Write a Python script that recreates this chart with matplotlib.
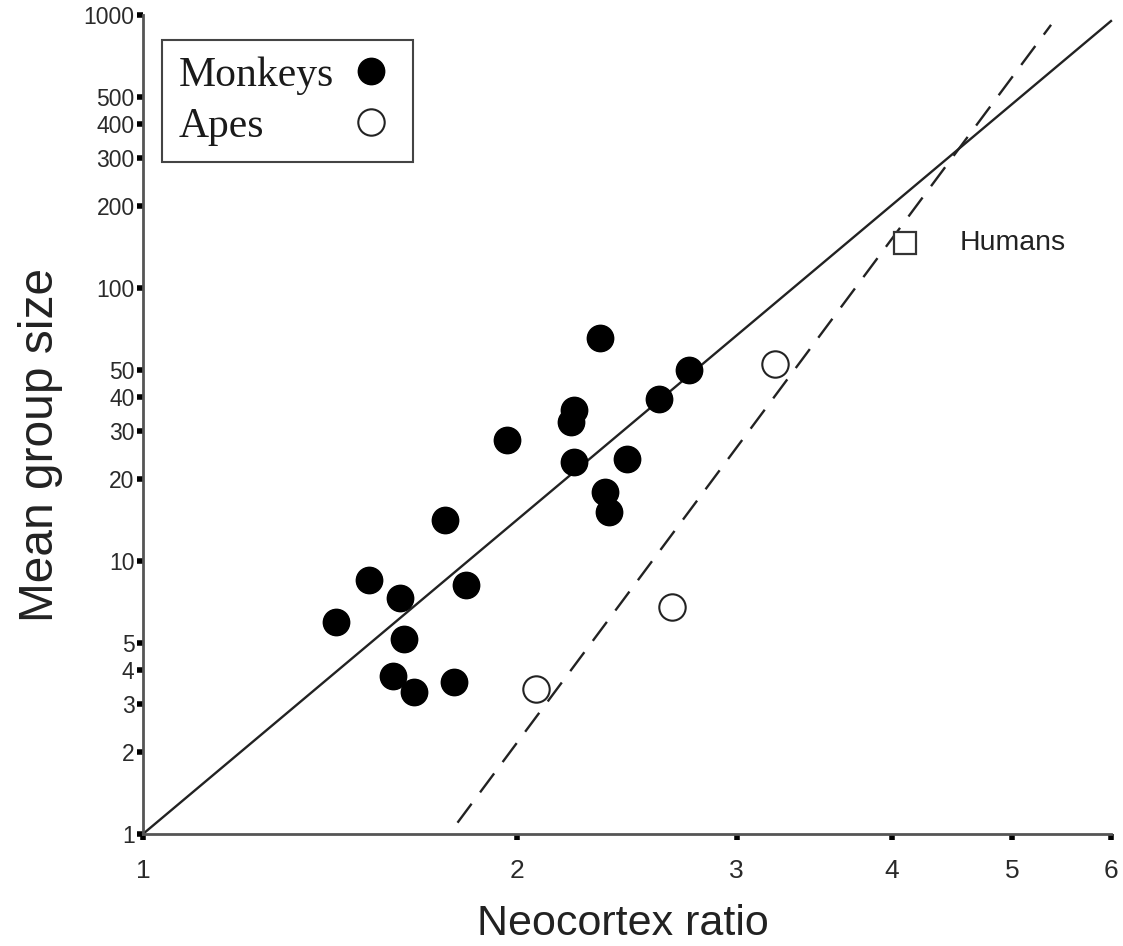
"""
neocortex ratio vs mean group size (log-log), monkeys / apes / humans
"""
import numpy as np
import matplotlib
matplotlib.use('Agg')
import matplotlib.pyplot as plt
from matplotlib.ticker import FixedLocator, FixedFormatter, NullLocator

# ------------------------------------------------------------------ data:
monkey_ratio = [1.43, 1.52, 1.61, 1.62, 1.59, 1.65, 1.78, 1.75, 1.82, 1.96,
                2.22, 2.21, 2.22, 2.33, 2.35, 2.37, 2.45, 2.60, 2.75]
monkey_group = [6.0, 8.5, 7.3, 5.2, 3.8, 3.3, 3.6, 14.1, 8.2, 27.7,
                35.7, 32.3, 23.0, 65.6, 17.9, 15.1, 23.6, 39.2, 50.1]

ape_ratio = [2.07, 2.66, 3.22]
ape_group = [3.4, 6.8, 52.7]

human_ratio = [4.10]
human_group = [146]

# regression lines (end points)
fit_all_x = [1.0, 6.0]
fit_all_y = [1.0, 950]
fit_ape_x = [1.79, 5.37]
fit_ape_y = [1.1, 920]

x_ticks = [1, 2, 3, 4, 5, 6]
y_ticks = [1, 2, 3, 4, 5, 10, 20, 30, 40, 50, 100, 200, 300, 400, 500, 1000]

# ------------------------------------------------------------------ plot:
fig = plt.figure(figsize=(11.23, 9.46), dpi=100)
ax = fig.add_axes([0.1273, 0.1184, 0.862, 0.8658])

sans = ['Liberation Sans', 'DejaVu Sans']
serif = ['Liberation Serif', 'DejaVu Serif']

ax.plot(fit_all_x, fit_all_y, color='#222222', lw=1.7, clip_on=False, zorder=2)
ax.plot(fit_ape_x, fit_ape_y, color='#222222', lw=1.7, ls=(0, (10, 6)),
        clip_on=False, zorder=2)

ax.plot(monkey_ratio, monkey_group, 'o', ms=19, color='black', mec='black',
        label='Monkeys', zorder=3, clip_on=False)
ax.plot(ape_ratio, ape_group, 'o', ms=19, mfc='white', mec='#222222', mew=1.5,
        label='Apes', zorder=3, clip_on=False)
ax.plot(human_ratio, human_group, 's', ms=15.5, mfc='white', mec='#333333',
        mew=1.6, zorder=3, clip_on=False)
ax.text(human_ratio[0] * 1.105, human_group[0], 'Humans', family=sans,
        fontsize=20.5, va='center', ha='left', color='#222222')

ax.set_xscale('log')
ax.set_yscale('log')
ax.set_xlim(1, 6)
ax.set_ylim(1, 1000)

ax.xaxis.set_major_locator(FixedLocator(x_ticks))
ax.xaxis.set_major_formatter(FixedFormatter([str(v) for v in x_ticks]))
ax.yaxis.set_major_locator(FixedLocator(y_ticks))
ax.yaxis.set_major_formatter(FixedFormatter([str(v) for v in y_ticks]))
ax.xaxis.set_minor_locator(NullLocator())
ax.yaxis.set_minor_locator(NullLocator())

for side in ['top', 'right']:
    ax.spines[side].set_visible(False)
for side in ['left', 'bottom']:
    ax.spines[side].set_color('#555555')
    ax.spines[side].set_linewidth(2)

ax.tick_params(axis='both', direction='out', length=4, width=4, color='black')
ax.tick_params(axis='y', pad=2, labelsize=16.5, labelcolor='#2a2a2a')
ax.tick_params(axis='x', pad=14, labelsize=19, labelcolor='#2a2a2a')
for lab in ax.get_xticklabels() + ax.get_yticklabels():
    lab.set_family(sans)

ax.set_xlabel('Neocortex ratio', family=sans, fontsize=31, color='#222222')
ax.set_ylabel('Mean group size', family=sans, fontsize=34.5, color='#222222')
ax.xaxis.set_label_coords(0.496, -0.086)
ax.yaxis.set_label_coords(-0.083, 0.475)

leg = ax.legend(loc='upper left', bbox_to_anchor=(0.0196, 0.97),
                borderaxespad=0, markerfirst=False, fancybox=False,
                prop={'family': serif, 'size': 30}, handlelength=1.2,
                handletextpad=0.3, borderpad=0.4, labelspacing=0.3,
                edgecolor='#444444', framealpha=1)
leg.get_frame().set_linewidth(1.5)
for t in leg.get_texts():
    t.set_color('#1a1a1a')

# left-align the legend labels while keeping the markers on the right
fig.canvas.draw()
renderer = fig.canvas.get_renderer()
widths = [t.get_window_extent(renderer).width for t in leg.get_texts()]
rows = leg._legend_handle_box.get_children()[0].get_children()
for row, w in zip(rows, widths):
    row.sep += (max(widths) - w) * 72 / fig.dpi

fig.savefig('out.png', dpi=100)
